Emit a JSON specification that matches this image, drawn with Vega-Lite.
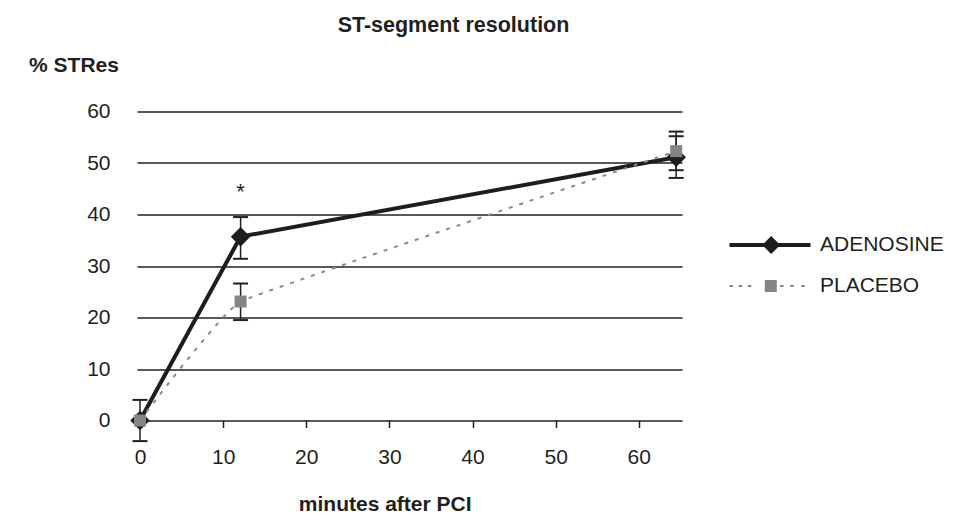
{
  "$schema": "https://vega.github.io/schema/vega-lite/v6.json",
  "autosize": "none",
  "width": 545,
  "height": 309,
  "padding": {"left": 137, "top": 111.5, "right": 288, "bottom": 94.5},
  "background": "white",
  "title": {
    "text": "ST-segment resolution",
    "font": "Liberation Sans",
    "fontSize": 21.5,
    "fontWeight": "bold",
    "color": "#231f20",
    "anchor": "middle",
    "frame": "group",
    "dx": 44,
    "offset": 18
  },
  "config": {
    "view": {"stroke": null},
    "font": "Liberation Sans"
  },
  "data": {
    "values": [
      {"series": "ADENOSINE", "minutes": 0, "value": 0, "lo": -4, "hi": 4},
      {"series": "ADENOSINE", "minutes": 12.1, "value": 35.7, "lo": 31.4, "hi": 39.5, "sig": "*"},
      {"series": "ADENOSINE", "minutes": 64.5, "value": 51.1, "lo": 47.1, "hi": 55.2},
      {"series": "PLACEBO", "minutes": 0, "value": 0},
      {"series": "PLACEBO", "minutes": 12.1, "value": 23.1, "lo": 19.5, "hi": 26.6},
      {"series": "PLACEBO", "minutes": 64.5, "value": 52.3, "lo": 48.6, "hi": 56.1}
    ]
  },
  "encoding": {
    "x": {
      "field": "minutes",
      "type": "quantitative",
      "scale": {"domain": [-0.36, 65.2], "nice": false, "zero": false},
      "axis": {
        "values": [0, 10, 20, 30, 40, 50, 60],
        "grid": false,
        "domain": false,
        "ticks": true,
        "tickSize": 7,
        "tickWidth": 1.5,
        "tickColor": "#231f20",
        "labelFont": "Liberation Sans",
        "labelFontSize": 21,
        "labelColor": "#231f20",
        "labelPadding": 19,
        "title": "minutes after PCI",
        "titleFont": "Liberation Sans",
        "titleFontSize": 21,
        "titleFontWeight": "bold",
        "titleColor": "#231f20",
        "titleX": 247.7,
        "titleY": 90,
        "titleAlign": "center",
        "titleBaseline": "alphabetic",
        "titleAnchor": null
      }
    }
  },
  "layer": [
    {
      "mark": {"type": "rule", "color": "#231f20", "strokeWidth": 1.5},
      "encoding": {
        "y": {
          "field": "lo",
          "type": "quantitative",
          "scale": {"domain": [0, 60], "nice": false, "zero": false},
          "axis": {
            "values": [0, 10, 20, 30, 40, 50, 60],
            "grid": true,
            "gridColor": "#231f20",
            "gridWidth": 1.5,
            "gridOpacity": 1,
            "domain": false,
            "ticks": false,
            "labelFont": "Liberation Sans",
            "labelFontSize": 21,
            "labelColor": "#231f20",
            "labelPadding": 27,
            "title": "% STRes",
            "titleFont": "Liberation Sans",
            "titleFontSize": 21,
            "titleFontWeight": "bold",
            "titleColor": "#231f20",
            "titleAngle": 0,
            "titleX": -63.5,
            "titleY": -39.8,
            "titleAlign": "center",
            "titleBaseline": "alphabetic",
            "titleAnchor": null
          }
        },
        "y2": {"field": "hi"}
      }
    },
    {
      "mark": {"type": "tick", "orient": "horizontal", "size": 15, "thickness": 2, "color": "#231f20", "opacity": 1},
      "encoding": {"y": {"field": "lo", "type": "quantitative"}}
    },
    {
      "mark": {"type": "tick", "orient": "horizontal", "size": 15, "thickness": 2, "color": "#231f20", "opacity": 1},
      "encoding": {"y": {"field": "hi", "type": "quantitative"}}
    },
    {
      "transform": [{"filter": "datum.series === 'ADENOSINE'"}],
      "mark": {"type": "line", "color": "#1e1c1d", "strokeWidth": 4},
      "encoding": {"y": {"field": "value", "type": "quantitative"}}
    },
    {
      "transform": [{"filter": "datum.series === 'PLACEBO'"}],
      "mark": {"type": "line", "color": "#8a8a8a", "strokeWidth": 2, "strokeDash": [4, 7], "interpolate": "cardinal", "tension": 0.8},
      "encoding": {"y": {"field": "value", "type": "quantitative"}}
    },
    {
      "transform": [{"filter": "datum.series === 'ADENOSINE'"}],
      "mark": {"type": "point", "shape": "diamond", "size": 380, "filled": true, "color": "#1e1c1d", "opacity": 1},
      "encoding": {"y": {"field": "value", "type": "quantitative"}}
    },
    {
      "transform": [{"filter": "datum.series === 'PLACEBO'"}],
      "mark": {"type": "point", "shape": "square", "size": 144, "filled": true, "color": "#858585", "opacity": 1},
      "encoding": {"y": {"field": "value", "type": "quantitative"}}
    },
    {
      "transform": [{"filter": "isValid(datum.sig)"}],
      "mark": {"type": "text", "font": "Liberation Sans", "fontSize": 22, "color": "#231f20", "baseline": "alphabetic", "align": "center", "dy": -18},
      "encoding": {
        "y": {"field": "hi", "type": "quantitative"},
        "text": {"field": "sig"}
      }
    },
    {
      "mark": {"type": "point", "filled": true, "opacity": 0, "strokeWidth": 0},
      "encoding": {
        "y": {"field": "value", "type": "quantitative"},
        "color": {
          "field": "series",
          "type": "nominal",
          "scale": {"domain": ["ADENOSINE", "PLACEBO"], "range": ["#1e1c1d", "#858585"]},
          "legend": {
            "title": null,
            "orient": "none",
            "legendX": 602.5,
            "legendY": 103,
            "padding": 0,
            "symbolSize": 3721,
            "symbolOpacity": 1,
            "symbolStrokeWidth": 0,
            "labelFont": "Liberation Sans",
            "labelFontSize": 21,
            "labelColor": "#231f20",
            "labelOffset": 19.5,
            "rowPadding": 0
          }
        },
        "shape": {
          "field": "series",
          "type": "nominal",
          "scale": {
            "domain": ["ADENOSINE", "PLACEBO"],
            "range": [
              "M-1.328,-0.066L1.328,-0.066L1.328,0.066L-1.328,0.066ZM0.039,-0.295L0.334,0L0.039,0.295L-0.256,0Z",
              "M-1.328,-0.033L-1.214,-0.033L-1.214,0.033L-1.328,0.033ZM-1.026,-0.033L-0.912,-0.033L-0.912,0.033L-1.026,0.033ZM-0.725,-0.033L-0.611,-0.033L-0.611,0.033L-0.725,0.033ZM0.332,-0.033L0.446,-0.033L0.446,0.033L0.332,0.033ZM0.664,-0.033L0.778,-0.033L0.778,0.033L0.664,0.033ZM1.023,-0.033L1.137,-0.033L1.137,0.033L1.023,0.033ZM-0.17,-0.197L0.223,-0.197L0.223,0.197L-0.17,0.197Z"
            ]
          },
          "legend": {
            "title": null,
            "orient": "none",
            "legendX": 602.5,
            "legendY": 103,
            "padding": 0,
            "symbolSize": 3721,
            "symbolOpacity": 1,
            "symbolStrokeWidth": 0,
            "labelFont": "Liberation Sans",
            "labelFontSize": 21,
            "labelColor": "#231f20",
            "labelOffset": 19.5,
            "rowPadding": 0
          }
        }
      }
    }
  ]
}
